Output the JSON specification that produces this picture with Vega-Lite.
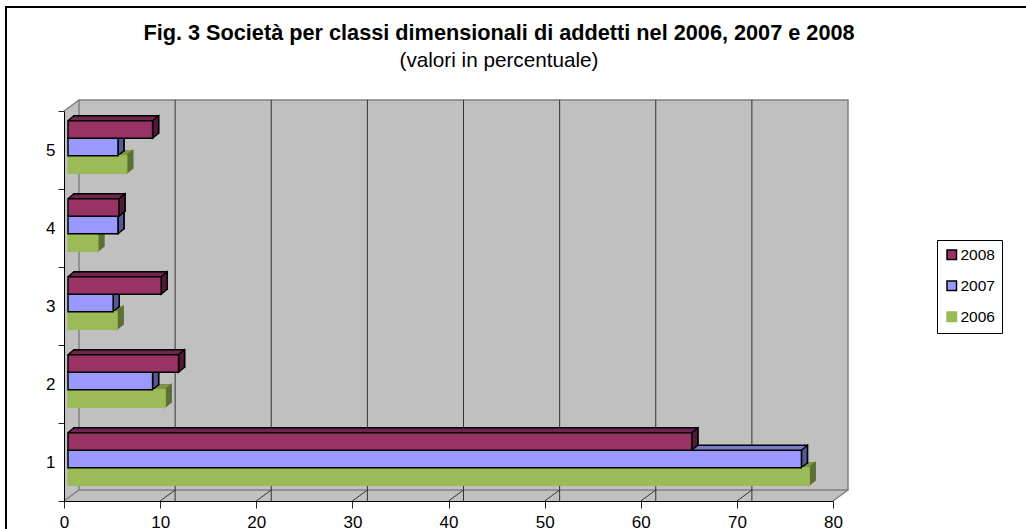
{
"$schema":"https://vega.github.io/schema/vega-lite/v6.json",
"autosize":{"type":"none"},
"padding":{"left":64,"top":111,"right":193,"bottom":28},
"width":769,"height":390,
"background":"white",
"title":{"text":"Fig. 3 Società per classi dimensionali di addetti nel 2006, 2007 e 2008","subtitle":"(valori in percentuale)","anchor":"middle","dx":50.5,"offset":-68,"font":"Liberation Sans","fontSize":21.7,"fontWeight":"bold","color":"black","subtitleFont":"Liberation Sans","subtitleFontSize":20.7,"subtitleColor":"black","subtitlePadding":7},
"config":{"view":{"stroke":null},"legend":{"orient":"none","legendX":873,"legendY":129,"strokeColor":"black","fillColor":"white","padding":7,"title":null,"labelFont":"Liberation Sans","labelFontSize":15.5,"labelColor":"black","symbolType":"square","symbolSize":90,"symbolStrokeWidth":1.5,"rowPadding":14,"labelOffset":1}},
"datasets":{
"bars":[
{"cat":"1","year":"2006","value":77.1},{"cat":"1","year":"2007","value":76.3},{"cat":"1","year":"2008","value":64.9},
{"cat":"2","year":"2006","value":10.1},{"cat":"2","year":"2007","value":8.8},{"cat":"2","year":"2008","value":11.5},
{"cat":"3","year":"2006","value":5.1},{"cat":"3","year":"2007","value":4.7},{"cat":"3","year":"2008","value":9.7},
{"cat":"4","year":"2006","value":3.1},{"cat":"4","year":"2007","value":5.2},{"cat":"4","year":"2008","value":5.3},
{"cat":"5","year":"2006","value":6.1},{"cat":"5","year":"2007","value":5.2},{"cat":"5","year":"2008","value":8.8}],
"ticks":[{"t":10},{"t":20},{"t":30},{"t":40},{"t":50},{"t":60},{"t":70}],
"one":[{"c":40}]
},
"layer":[
{"data":{"name":"one"},
 "mark":{"type":"point","filled":true,"size":4,"fill":"#C0C0C0","stroke":null,"opacity":1,"shape":"M-384.5,-195L-369.5,-206L399.5,-206L399.5,184L384.5,195L-384.5,195Z"},
 "encoding":{"x":{"field":"c","type":"quantitative","scale":{"domain":[0,80],"nice":false,"zero":true},"axis":{"values":[0,10,20,30,40,50,60,70,80],"format":"d","grid":false,"title":null,"domainColor":"black","domainWidth":1,"tickColor":"#222","tickSize":7,"labelFont":"Liberation Sans","labelFontSize":17,"labelColor":"black","labelPadding":6,"labelFlush":false,"zindex":1}}}},
{"data":{"name":"one"},
 "mark":{"type":"point","filled":false,"size":4,"stroke":"#808080","strokeWidth":1.5,"opacity":1,"shape":"M-369.5,184L-369.5,-206L399.5,-206L399.5,184L-369.5,184L-384.5,195M399.5,184L384.5,195M-369.5,-206L-384.5,-195"},
 "encoding":{"x":{"field":"c","type":"quantitative"}}},
{"data":{"name":"one"},
 "mark":{"type":"point","filled":false,"size":4,"stroke":"black","strokeWidth":2,"opacity":1,"shape":"M-442.5,223L-442.5,-299L577.5,-299"},
 "encoding":{"x":{"field":"c","type":"quantitative"}}},
{"data":{"name":"ticks"},
 "mark":{"type":"rule","xOffset":15,"yOffset":-11,"y2Offset":-11,"stroke":"#333","strokeWidth":1},
 "encoding":{"x":{"field":"t","type":"quantitative"}}},
{"data":{"name":"ticks"},
 "mark":{"type":"point","filled":false,"size":4,"stroke":"#333","strokeWidth":1,"opacity":1,"shape":"M0,195L15,184"},
 "encoding":{"x":{"field":"t","type":"quantitative"}}},
{"data":{"name":"bars"},
 "mark":{"type":"bar","xOffset":10,"x2Offset":10,"strokeWidth":1.5,"opacity":1},
 "encoding":{"x":{"field":"value","type":"quantitative"},
  "y":{"field":"cat","type":"nominal","sort":["5","4","3","2","1"],"scale":{"domain":["5","4","3","2","1"],"paddingInner":0,"paddingOuter":0},"axis":{"title":null,"domainColor":"black","domainWidth":1,"tickColor":"#222","tickSize":6,"tickBand":"extent","labelFont":"Liberation Sans","labelFontSize":17,"labelColor":"black","labelPadding":3,"labelAngle":0,"zindex":1}},
  "yOffset":{"field":"year","type":"nominal","sort":["2008","2007","2006"],"scale":{"type":"band","domain":["2008","2007","2006"],"paddingInner":0,"paddingOuter":0.73,"align":0.186}},
  "fill":{"field":"year","type":"nominal","legend":null,"scale":{"domain":["2008","2007","2006"],"range":["#70254F","#7A7ACC","#7C9647"]}},
  "stroke":{"field":"year","type":"nominal","legend":null,"scale":{"domain":["2008","2007","2006"],"range":["black","black","#7C9647"]}}}},
{"data":{"name":"bars"},
 "mark":{"type":"point","filled":true,"size":4,"stroke":null,"opacity":1,"shape":"M4,-8.75L10,-13L14,-13L14,-8.75Z"},
 "encoding":{"x":{"datum":0,"type":"quantitative"},"y":{"field":"cat","type":"nominal"},
  "yOffset":{"field":"year","type":"nominal","scale":{"type":"band","domain":["2008","2007","2006"],"paddingInner":0,"paddingOuter":0.73,"align":0.382}},
  "fill":{"field":"year","type":"nominal","legend":null,"scale":{"domain":["2008","2007","2006"],"range":["#70254F","#7A7ACC","#7C9647"]}}}},
{"data":{"name":"bars"},
 "mark":{"type":"point","filled":false,"size":4,"strokeWidth":1.5,"opacity":1,"shape":"M4,-8.75L10,-13.75L16,-13.75"},
 "encoding":{"x":{"datum":0,"type":"quantitative"},"y":{"field":"cat","type":"nominal"},
  "yOffset":{"field":"year","type":"nominal","scale":{"type":"band","domain":["2008","2007","2006"],"paddingInner":0,"paddingOuter":0.73,"align":0.382}},
  "stroke":{"field":"year","type":"nominal","legend":null,"scale":{"domain":["2008","2007","2006"],"range":["black","black","#7C9647"]}}}},
{"data":{"name":"bars"},
 "mark":{"type":"point","filled":true,"size":4,"strokeWidth":1.5,"opacity":1,"shape":"M4,-8.75L10,-13.75L10,3.75L4,8.75Z"},
 "encoding":{"x":{"field":"value","type":"quantitative"},"y":{"field":"cat","type":"nominal"},
  "yOffset":{"field":"year","type":"nominal","scale":{"type":"band","domain":["2008","2007","2006"],"paddingInner":0,"paddingOuter":0.73,"align":0.382}},
  "fill":{"field":"year","type":"nominal","legend":null,"scale":{"domain":["2008","2007","2006"],"range":["#521A38","#565A94","#5D7035"]}},
  "stroke":{"field":"year","type":"nominal","legend":null,"scale":{"domain":["2008","2007","2006"],"range":["black","black","#5D7035"]}}}},
{"data":{"name":"bars"},
 "mark":{"type":"bar","xOffset":4,"x2Offset":4,"strokeWidth":1.5,"opacity":1},
 "encoding":{"x":{"field":"value","type":"quantitative"},"y":{"field":"cat","type":"nominal"},
  "yOffset":{"field":"year","type":"nominal","scale":{"type":"band","domain":["2008","2007","2006"],"paddingInner":0,"paddingOuter":0.73,"align":0.382}},
  "fill":{"field":"year","type":"nominal","sort":["2008","2007","2006"],"scale":{"domain":["2008","2007","2006"],"range":["#993366","#9999FF","#9BBB59"]},"legend":{}},
  "stroke":{"field":"year","type":"nominal","sort":["2008","2007","2006"],"scale":{"domain":["2008","2007","2006"],"range":["black","black","#9BBB59"]},"legend":{}}}}
],
"resolve":{"scale":{"fill":"independent","stroke":"independent","yOffset":"independent"}}
}
